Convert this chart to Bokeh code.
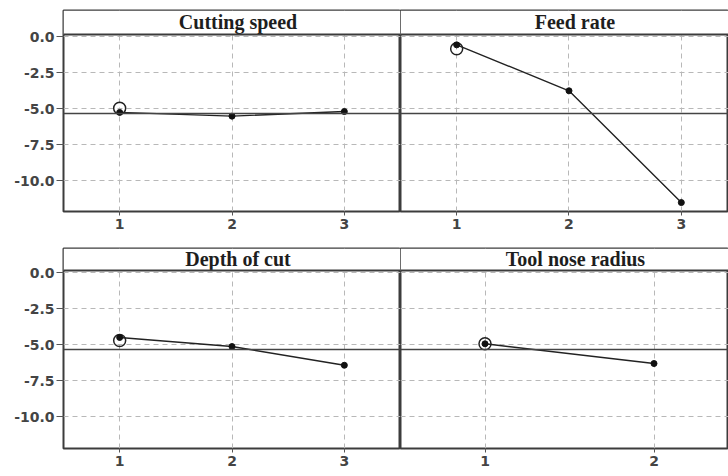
from bokeh.plotting import figure
from bokeh.layouts import column, row
from bokeh.models import FixedTicker, PrintfTickFormatter, Span, Range1d
from bokeh.core.properties import value
from bokeh.embed import file_html
from bokeh.resources import INLINE

# Main effects (mean of S/N ratios) for each machining factor
cutting_speed_levels = [1, 2, 3]
cutting_speed_means = [-5.27, -5.53, -5.21]
feed_rate_levels = [1, 2, 3]
feed_rate_means = [-0.58, -3.77, -11.53]
depth_of_cut_levels = [1, 2, 3]
depth_of_cut_means = [-4.51, -5.14, -6.44]
tool_nose_radius_levels = [1, 2]
tool_nose_radius_means = [-4.95, -6.32]

# Selected (optimal) level of each factor, shown with an open circle
optimal_levels = [1, 1, 1, 1]
optimal_values = [-4.98, -0.85, -4.72, -4.95]

overall_mean = -5.35
y_ticks = [0.0, -2.5, -5.0, -7.5, -10.0]

LABEL_FONT = "DejaVu Sans"
TITLE_FONT = "Liberation Serif"
FRAME = "#3c3c3c"


def panel(title, levels, means, opt_x, opt_y, width, height, x_end, y_range,
          border_top, border_bottom, left_axis):
    y_start, y_end = y_range
    p = figure(
        width=width, height=height,
        x_range=Range1d(0.5, x_end), y_range=Range1d(y_start, y_end),
        output_backend="svg", toolbar_location=None,
        y_axis_location="left" if left_axis else None,
        min_border_left=63 if left_axis else 0, min_border_right=0,
        min_border_top=border_top, min_border_bottom=border_bottom,
    )
    p.outline_line_color = FRAME
    p.outline_line_width = 2
    p.background_fill_color = "white"
    p.border_fill_color = "white"

    # axes
    p.xaxis.ticker = FixedTicker(ticks=levels)
    p.xaxis.axis_line_color = None
    p.xaxis.major_tick_in = 0
    p.xaxis.major_tick_out = 4
    p.xaxis.minor_tick_line_color = None
    p.xaxis.major_tick_line_color = "#555555"
    p.xaxis.major_label_standoff = 3
    p.xaxis.major_label_text_font = LABEL_FONT
    p.xaxis.major_label_text_font_style = "bold"
    p.xaxis.major_label_text_font_size = "14px"
    p.xaxis.major_label_text_color = "#444444"
    if left_axis:
        p.yaxis.ticker = FixedTicker(ticks=y_ticks)
        p.yaxis.formatter = PrintfTickFormatter(format="%.1f")
        p.yaxis.axis_line_color = None
        p.yaxis.major_tick_in = 0
        p.yaxis.major_tick_out = 7
        p.yaxis.minor_tick_line_color = None
        p.yaxis.major_tick_line_color = "#555555"
        p.yaxis.major_label_standoff = 2
        p.yaxis.major_label_text_font = LABEL_FONT
        p.yaxis.major_label_text_font_style = "bold"
        p.yaxis.major_label_text_font_size = "14px"
        p.yaxis.major_label_text_color = "#444444"

    # dashed reference grid
    p.xgrid.ticker = FixedTicker(ticks=levels)
    p.ygrid.ticker = FixedTicker(ticks=y_ticks)
    for g in (p.xgrid, p.ygrid):
        g.grid_line_color = "#b8b8b8"
        g.grid_line_dash = "5 4"
        g.grid_line_width = 1

    # title strip across the top of the panel
    strip_bottom = 0.14
    p.quad(left=0.5, right=x_end, bottom=strip_bottom, top=y_end,
           fill_color="white", line_color=None)
    p.add_layout(Span(location=strip_bottom, dimension="width",
                      line_color=FRAME, line_width=2))
    mid = (levels[0] + levels[-1]) / 2
    p.text(x=[mid], y=[(strip_bottom + y_end) / 2], text=[title],
           text_font=value(TITLE_FONT), text_font_style="bold",
           text_font_size="20px", text_align="center",
           text_baseline="middle", text_color="#1e1e1e", x_offset=6)

    # overall mean line
    p.add_layout(Span(location=overall_mean, dimension="width",
                      line_color="#444444", line_width=1.4))

    # factor-level means
    p.scatter(x=[opt_x], y=[opt_y], size=12, marker="circle",
              fill_color=None, line_color="#222222", line_width=1.5)
    p.line(levels, means, line_color="#222222", line_width=1.4)
    p.scatter(levels, means, size=6, marker="circle",
              fill_color="#111111", line_color="#111111")
    return p


top_y = (-12.15, 1.806)
bot_y = (-12.22, 1.667)

p1 = panel("Cutting speed", cutting_speed_levels, cutting_speed_means,
           optimal_levels[0], optimal_values[0], 400, 236, 3.5, top_y, 10, 25, True)
p2 = panel("Feed rate", feed_rate_levels, feed_rate_means,
           optimal_levels[1], optimal_values[1], 328, 236, 0.5 + 328 / 112.33,
           top_y, 10, 25, False)
p3 = panel("Depth of cut", depth_of_cut_levels, depth_of_cut_means,
           optimal_levels[2], optimal_values[2], 400, 240, 3.5, bot_y, 12, 28, True)
p4 = panel("Tool nose radius", tool_nose_radius_levels, tool_nose_radius_means,
           optimal_levels[3], optimal_values[3], 328, 240, 0.5 + 328 / 169.0,
           bot_y, 12, 28, False)

layout = column(row(p1, p2, spacing=0), row(p3, p4, spacing=0), spacing=0)

open("out.html", "w").write(file_html(layout, INLINE))
